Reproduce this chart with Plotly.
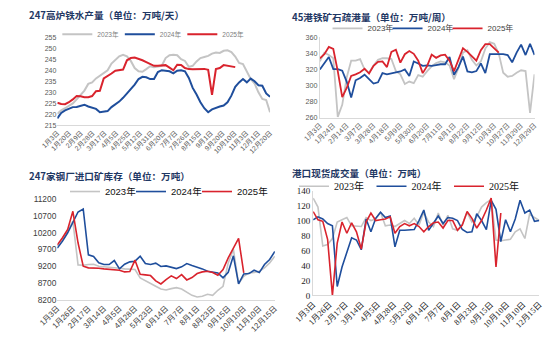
import numpy as np
import plotly.graph_objects as go

# ---------------- data ----------------
# Chart 1: 247 blast furnace hot metal output (10k t/day)
c1_labels = ["1月3日", "1月20日", "2月9日", "2月28日", "3月17日", "4月5日", "4月25日", "5月12日",
             "5月31日", "6月20日", "7月7日", "7月26日", "8月15日", "9月1日", "9月20日", "10月10日",
             "11月3日", "12月1日", "12月20日"]
c1_2023 = [220.3, 221.8, 222.8, 224.0, 225.0, 226.8, 229.0, 230.8, 233.8, 234.5, 236.3, 237.5, 238.5,
           240.0, 243.0, 244.8, 246.3, 247.0, 246.3, 244.2, 241.0, 239.5, 239.3, 240.5, 241.8, 241.3,
           241.5, 242.0, 245.5, 246.8, 247.0, 246.8, 245.0, 244.2, 241.5, 242.0, 244.0, 245.5, 246.0,
           246.5, 247.5, 248.0, 247.8, 248.8, 249.0, 248.2, 246.2, 243.3, 242.8, 239.5, 236.0, 234.0,
           230.0, 227.0, 226.5, 221.0]
c1_2024 = [218.2, 220.7, 221.8, 222.6, 223.3, 223.4, 224.0, 224.4, 223.6, 223.0, 222.5, 221.0, 221.4,
           221.5, 223.3, 224.4, 225.8, 227.5, 229.5, 231.0, 233.5, 236.0, 237.0, 236.8, 236.0, 236.0,
           239.2, 240.0, 239.6, 239.5, 238.6, 239.8, 240.0, 239.5, 236.5, 232.0, 229.0, 225.5, 222.8,
           221.0, 222.3, 223.0, 223.6, 224.0, 225.5, 228.5, 232.5, 234.5, 236.0, 234.5, 236.2, 235.0,
           233.2, 233.0, 229.5, 228.0]
c1_2025 = [225.3, 224.7, 224.6, 225.5, 226.8, 228.3, 228.2, 227.8, 227.8, 228.3, 230.5, 230.7, 236.3,
           237.3, 238.5, 239.8, 240.2, 240.3, 244.5, 245.5, 245.7, 245.2, 244.5, 243.7, 242.7, 242.0,
           242.0, 242.2, 242.3, 241.2, 240.0, 242.5, 242.4, 241.0, 240.5, 240.4, 240.5, 240.6, 240.6,
           240.2, 228.8, 240.5, 241.0, 242.3, 242.0, 241.7, 241.4]

# Chart 2: 45-port ore evacuation (10k t/week)
c2_labels = ["1月3日", "1月24日", "2月14日", "3月7日", "3月28日", "4月18日", "5月9日", "5月30日",
             "6月20日", "7月11日", "8月1日", "8月22日", "9月12日", "10月3日", "10月27日", "11月29日",
             "12月29日"]
c2_2023 = [330, 341, 338, 334, 261, 276, 310, 331, 331, 333, 320, 316, 325, 332, 334, 334, 333, 318,
           314, 302, 305, 303, 313, 311, 318, 324, 328, 330, 329, 325, 308, 322, 341, 344, 332, 325,
           330, 346, 354, 352, 340, 316, 311, 312, 316, 319, 318, 266, 314]
c2_2024 = [320, 328, 335.5, 320.5, 320.5, 318.5, 305, 285, 306.5, 309.5, 313.5, 308, 302.5, 304,
           315.5, 314, 315.5, 316.5, 317.5, 320, 312, 330, 327.5, 324.5, 325, 324.5, 325.5, 326.5,
           326.5, 335.5, 313.5, 323, 336, 317.5, 316.5, 318, 327.5, 315.5, 339, 339, 339, 339, 338,
           329, 341, 351, 338, 352, 338]
c2_2025 = [333.8, 339, 348, 345.5, 318, 285.5, 297, 312, 314, 316.5, 321, 315, 324.5, 329.5, 330,
           323, 342, 344.5, 328.5, 339, 343, 339.5, 331, 315.5, 324.5, 338.5, 334.5, 337.5, 338.5,
           331, 318, 333, 346.5, 342, 336, 331, 344, 351.5, 351.5, 346.5, 341]

# Chart 3: 247 mills imported ore inventory (10k t)
c3_labels = ["1月3日", "1月26日", "2月17日", "3月14日", "4月5日", "4月28日", "5月23日", "6月14日",
             "7月7日", "8月1日", "8月23日", "9月15日", "10月10日", "11月10日", "12月15日"]
c3_2023 = [9800, 10000, 10250, 10550, 9240, 9230, 9250, 9260, 9200, 9190, 9180, 9160, 9140, 9120,
           9100, 9100, 8850, 8760, 8680, 8600, 8520, 8490, 8530, 8560, 8520, 8420, 8330, 8280, 8300,
           8360, 8330, 8480, 8600, 9300, 9700, 8680, 8900, 9000, 9010, 9050, 9150, 9300, 9500]
c3_2024 = [9740, 9950, 10200, 10500, 10820, 10910, 9540, 9490, 9300, 9250, 9250, 9370, 9120, 9260,
           9330, 9350, 9500, 9280, 9250, 9290, 9190, 9210, 9180, 9130, 9180, 9280, 9220, 9180, 9120,
           9050, 9020, 9000, 8850, 9020, 9510, 8670, 8970, 8980, 9080, 9010, 9250, 9400, 9640]
c3_2025 = [9840, 10050, 10300, 10840, 9900, 9200, 9150, 9150, 9140, 9120, 9100, 9090, 9080, 9030,
           9040, 9380, 8960, 8940, 8920, 8760, 8670, 8800, 8910, 8830, 8950, 8790, 8860, 8980, 9030,
           9050, 9010, 8930, 9100, 9450, 9740, 10030, 9000]

# Chart 4: port spot trading volume (10k t)
c4_labels = ["1月3日", "1月26日", "2月17日", "3月14日", "4月5日", "4月28日", "5月23日", "6月14日",
             "7月7日", "8月1日", "8月23日", "9月15日", "10月10日", "11月10日", "12月15日"]
c4_2023 = [130, 118, 66, 68, 76, 98, 101, 104, 93, 92, 92, 104, 100, 102, 111, 93, 94, 92, 96, 100,
           96, 103, 94, 111, 98, 92, 110, 94, 107, 89, 87, 95, 111, 98, 105, 118, 124, 128, 74, 73,
           74, 75, 85, 89, 76, 109, 104, 100]
c4_2024 = [101, 105, 102, 96, 93, 12, 38, 58, 77, 74, 61, 102, 85, 103, 111, 104, 106, 65, 87, 87,
           88, 88, 100, 114, 87, 97, 106, 96, 104, 103, 100, 88, 84, 85, 109, 100, 88, 127, 115, 72,
           101, 85, 102, 127, 110, 114, 99, 100]
c4_2025 = [112, 101, 99, 75, 0, 70, 98, 83, 97, 85, 62, 98, 110, 100, 101, 102, 105, 83, 92, 96, 93,
           96, 92, 85, 92, 97, 98, 90, 100, 100, 87, 94, 112, 103, 90, 100, 114, 130, 38, 110]

series_names = ["2023年", "2024年", "2025年"]
titles = ["247高炉铁水产量（单位：万吨/天）", "45港铁矿石疏港量（单位：万吨/周）",
          "247家钢厂进口矿库存（单位：万吨）", "港口现货成交量（单位：万吨）"]

# ---------------- style ----------------
W, H = 550, 351
COLORS = ["#c4c4c4", "#1f4e9c", "#d9232d"]
SANS = "Liberation Sans, Arial, Noto Sans CJK SC, sans-serif"
SERIF = "Liberation Serif, Times New Roman, Noto Sans CJK SC, serif"
CJK = "Noto Sans CJK SC, sans-serif"
TITLE_COLOR = "#1f3864"


def px_x(v):
    return v / W


def px_y(v):
    return 1 - v / H


panels = [
    dict(data=[c1_2023, c1_2024, c1_2025], labels=c1_labels, xd=(40, 262), yd=(124, 33),
         yr=(215, 255), dt=5, lw=2.0, tick_font=dict(family=SANS, size=6.8, color="#595959"),
         ytick_font=dict(family=SANS, size=7, color="#595959"), yline=False,
         leg=dict(x=40, y=30, ew=17.5, font=dict(family=SANS, size=6.6, color="#808080")),
         title=(8, 10)),
    dict(data=[c2_2023, c2_2024, c2_2025], labels=c2_labels, xd=(314, 538), yd=(116, 33.3),
         yr=(260, 360), dt=20, lw=1.8, tick_font=dict(family=SANS, size=7, color="#595959"),
         ytick_font=dict(family=SANS, size=7.2, color="#595959"), yline=True,
         leg=dict(x=322, y=24, ew=15, font=dict(family=SANS, size=8, color="#404040")),
         title=(283, 12)),
    dict(data=[c3_2023, c3_2024, c3_2025], labels=c3_labels, xd=(40, 267), yd=(303.3, 200),
         yr=(8200, 11200), dt=500, lw=1.6, tick_font=dict(family=SANS, size=7.8, color="#404040"),
         ytick_font=dict(family=SANS, size=8.4, color="#404040"), yline=False,
         leg=dict(x=48, y=192, ew=21, font=dict(family=SANS, size=9.5, color="#111111")),
         title=(8, 175.5)),
    dict(data=[c4_2023, c4_2024, c4_2025], labels=c4_labels, xd=(307, 543), yd=(299, 191),
         yr=(0, 140), dt=20, lw=1.6, tick_font=dict(family=SERIF, size=8.2, color="#222222"),
         ytick_font=dict(family=SERIF, size=9, color="#222222"), yline=True,
         leg=dict(x=287, y=186.5, ew=32.5, font=dict(family=SERIF, size=10, color="#111111")),
         title=(283, 172.5)),
]

fig = go.Figure()
layout = dict(width=W, height=H, margin=dict(l=0, r=0, t=0, b=0),
              paper_bgcolor="white", plot_bgcolor="white", showlegend=True, annotations=[])

for k, p in enumerate(panels):
    n = k + 1
    xa = "x" if n == 1 else f"x{n}"
    ya = "y" if n == 1 else f"y{n}"
    lg = "legend" if n == 1 else f"legend{n}"
    npts = max(len(s) for s in p["data"])
    for j, (name, series, color) in enumerate(zip(series_names, p["data"], COLORS)):
        extra = dict(legendwidth=45) if j == len(series_names) - 1 else {}
        fig.add_trace(go.Scatter(
            x=list(range(len(series))), y=series, name=name, mode="lines",
            line=dict(color=color, width=p["lw"]), xaxis=xa, yaxis=ya, legend=lg,
            hoverinfo="skip", **extra))
    tickvals = np.linspace(0, npts - 1, len(p["labels"])).tolist()
    layout["xaxis" if n == 1 else f"xaxis{n}"] = dict(
        domain=[px_x(p["xd"][0]), px_x(p["xd"][1])], anchor=ya, range=[0, npts - 1],
        tickmode="array", tickvals=tickvals, ticktext=p["labels"], tickangle=-45,
        tickfont=p["tick_font"], showgrid=False, zeroline=False, showline=True,
        linecolor="#d9d9d9", linewidth=1, ticks="", fixedrange=True)
    layout["yaxis" if n == 1 else f"yaxis{n}"] = dict(
        domain=[px_y(p["yd"][0]), px_y(p["yd"][1])], anchor=xa, range=list(p["yr"]),
        dtick=p["dt"], tick0=p["yr"][0], tickformat="d", tickfont=p["ytick_font"],
        showgrid=False, zeroline=False, showline=p["yline"], linecolor="#d9d9d9", linewidth=1,
        ticks="", fixedrange=True)
    layout[lg] = dict(orientation="h", x=px_x(p["leg"]["x"]), xanchor="left",
                      y=px_y(p["leg"]["y"]), yanchor="middle", font=p["leg"]["font"],
                      bgcolor="rgba(0,0,0,0)", borderwidth=0, entrywidth=p["leg"]["ew"],
                      entrywidthmode="pixels", itemclick=False, itemdoubleclick=False,
                      tracegroupgap=0)
    layout["annotations"].append(dict(
        text=f"<b>{titles[k]}</b>", xref="paper", yref="paper", x=px_x(p["title"][0]),
        y=px_y(p["title"][1]), xanchor="left", yanchor="middle", showarrow=False,
        font=dict(family=CJK, size=9.6, color=TITLE_COLOR)))

fig.update_layout(**layout)
fig.write_html("out.html")
